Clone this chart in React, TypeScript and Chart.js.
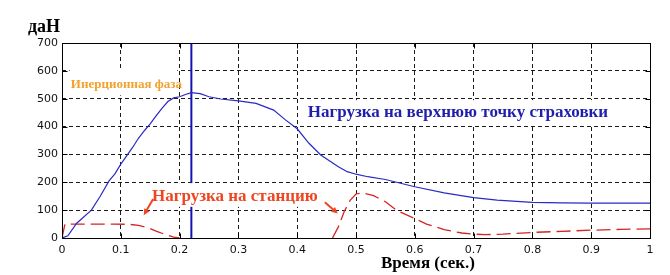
import React, { useEffect, useRef } from "react";
import { Chart, registerables } from "chart.js";

Chart.register(...registerables);

// ---- data ----
const topTime = [0, 0.01, 0.025, 0.05, 0.065, 0.08, 0.09, 0.1, 0.11, 0.12, 0.13, 0.14, 0.15, 0.16, 0.17, 0.18, 0.19, 0.2, 0.21, 0.22, 0.235, 0.25, 0.27, 0.3, 0.33, 0.36, 0.38, 0.4, 0.42, 0.44, 0.47, 0.485, 0.5, 0.52, 0.55, 0.6, 0.65, 0.7, 0.74, 0.8, 0.85, 0.9, 1];
const topLoad = [0, 8, 53, 100, 150, 205, 230, 265, 295, 325, 358, 385, 410, 438, 465, 490, 503, 507, 515, 522, 518, 507, 499, 492, 483, 459, 424, 392, 340, 298, 256, 238, 229, 220, 210, 184, 162, 145, 136, 128, 126, 125, 125];

// null = no visible trace (load at zero, hidden under the axis)
const stationTime = [0, 0.005, 0.03, 0.06, 0.09, 0.115, 0.13, 0.145, 0.16, 0.175, 0.19, 0.2, 0.33, 0.46, 0.47, 0.48, 0.49, 0.5, 0.51, 0.53, 0.55, 0.57, 0.6, 0.62, 0.65, 0.68, 0.7, 0.72, 0.75, 0.8, 0.85, 0.9, 0.95, 1];
const stationLoad = [0, 50, 50, 50, 50, 49, 45, 38, 25, 13, 3, 0, null, 0, 40, 95, 135, 158, 162, 152, 130, 98, 70, 50, 30, 18, 14, 12, 14, 20, 24, 28, 31, 33];

const markerTime = [0.22, 0.22];
const markerLoad = [0, 700];

const xTickValues = [0, 0.1, 0.2, 0.3, 0.4, 0.5, 0.6, 0.7, 0.8, 0.9, 1];
const xTickLabels = ["0", "0.1", "0.2", "0.3", "0.4", "0.5", "0.6", "0.7", "0.8", "0.9", "1"];
const yTickValues = [0, 100, 200, 300, 400, 500, 600, 700];
const yTickLabels = ["0", "100", "200", "300", "400", "500", "600", "700"];

const yUnit = "даН";
const xTitle = "Время (сек.)";
const labelInertia = "Инерционная фаза";
const labelTop = "Нагрузка на верхнюю точку страховки";
const labelStation = "Нагрузка на станцию";

const SERIF = "\"Liberation Serif\", \"Times New Roman\", serif";
const SANS = "\"DejaVu Sans\", sans-serif";

function setSerif(ctx: CanvasRenderingContext2D, text: string, width: number, base: number) {
  ctx.font = `bold ${base}px ${SERIF}`;
  const w = ctx.measureText(text).width;
  const size = Math.round((base * width) / w);
  ctx.font = `bold ${size}px ${SERIF}`;
}

function arrow(ctx: CanvasRenderingContext2D, x1: number, y1: number, x2: number, y2: number, color: string) {
  const ang = Math.atan2(y2 - y1, x2 - x1);
  const head = 7;
  ctx.save();
  ctx.strokeStyle = color;
  ctx.fillStyle = color;
  ctx.lineWidth = 2;
  ctx.beginPath();
  ctx.moveTo(x1, y1);
  ctx.lineTo(x2 - Math.cos(ang) * head * 0.6, y2 - Math.sin(ang) * head * 0.6);
  ctx.stroke();
  ctx.beginPath();
  ctx.moveTo(x2, y2);
  ctx.lineTo(x2 - head * Math.cos(ang - 0.45), y2 - head * Math.sin(ang - 0.45));
  ctx.lineTo(x2 - head * Math.cos(ang + 0.45), y2 - head * Math.sin(ang + 0.45));
  ctx.closePath();
  ctx.fill();
  ctx.restore();
}

const decorPlugin = {
  id: "decor",
  beforeDatasetsDraw(chart: any) {
    const { ctx, scales } = chart;
    const x = scales.x, y = scales.y;
    // white patch behind "Инерционная фаза"
    ctx.save();
    ctx.fillStyle = "#ffffff";
    const l = x.getPixelForValue(0.013), r = x.getPixelForValue(0.196);
    const t = y.getPixelForValue(608), b = y.getPixelForValue(512);
    ctx.fillRect(l, t, r - l, b - t);
    ctx.restore();
  },
  afterDatasetsDraw(chart: any) {
    const { ctx, scales, chartArea: a } = chart;
    const x = scales.x, y = scales.y;
    ctx.save();
    // white patches behind the other two labels
    ctx.fillStyle = "#ffffff";
    {
      const l = x.getPixelForValue(0.412), r = x.getPixelForValue(0.935);
      const t = y.getPixelForValue(495), b = y.getPixelForValue(405);
      ctx.fillRect(l, t, r - l, b - t);
    }
    {
      const l = x.getPixelForValue(0.147), r = x.getPixelForValue(0.436);
      const t = y.getPixelForValue(197), b = y.getPixelForValue(112);
      ctx.fillRect(l, t, r - l, b - t);
    }

    // frame
    const L = Math.round(a.left) + 0.5, R = Math.round(a.right) + 0.5;
    const T = Math.round(a.top) + 0.5, B = Math.round(a.bottom) + 0.5;
    ctx.strokeStyle = "#000";
    ctx.lineWidth = 1;
    ctx.setLineDash([]);
    ctx.strokeRect(L, T, R - L, B - T);
    // inward tick marks
    ctx.beginPath();
    for (const v of xTickValues) {
      const px = Math.round(x.getPixelForValue(v)) + 0.5;
      ctx.moveTo(px, B); ctx.lineTo(px, B - 5);
      ctx.moveTo(px, T); ctx.lineTo(px, T + 5);
    }
    for (const v of yTickValues) {
      const py = Math.round(y.getPixelForValue(v)) + 0.5;
      ctx.moveTo(L, py); ctx.lineTo(L + 5, py);
      ctx.moveTo(R, py); ctx.lineTo(R - 5, py);
    }
    ctx.stroke();

    ctx.textBaseline = "middle";
    ctx.textAlign = "left";
    // axis titles
    ctx.fillStyle = "#000";
    setSerif(ctx, yUnit, 32, 15);
    ctx.fillText(yUnit, 28, 27);
    setSerif(ctx, xTitle, 93, 15);
    ctx.textAlign = "center";
    ctx.fillText(xTitle, 428, 264);
    ctx.textAlign = "left";

    // labels
    ctx.fillStyle = "#f2a22e";
    setSerif(ctx, labelInertia, 110, 11);
    ctx.fillText(labelInertia, x.getPixelForValue(0.015), y.getPixelForValue(550));

    ctx.fillStyle = "#1f1fae";
    setSerif(ctx, labelTop, 304, 16);
    ctx.fillText(labelTop, x.getPixelForValue(0.418), y.getPixelForValue(450));

    ctx.fillStyle = "#ee4622";
    setSerif(ctx, labelStation, 165, 16);
    ctx.fillText(labelStation, x.getPixelForValue(0.153), y.getPixelForValue(148));

    arrow(ctx, x.getPixelForValue(0.155), y.getPixelForValue(140), x.getPixelForValue(0.139), y.getPixelForValue(82), "#ee4622");
    arrow(ctx, x.getPixelForValue(0.447), y.getPixelForValue(128), x.getPixelForValue(0.469), y.getPixelForValue(88), "#ee4622");
    ctx.restore();
  },
};

export default function App() {
  const ref = useRef<HTMLCanvasElement>(null);
  useEffect(() => {
    const prev = document.body.style.margin;
    document.body.style.margin = "0";
    const gridCommon = { color: "#1a1a1a", lineWidth: 1, drawTicks: false };
    const chart = new Chart(ref.current as HTMLCanvasElement, {
      type: "line",
      data: {
        datasets: [
          {
            data: topTime.map((t, i) => ({ x: t, y: topLoad[i] })),
            borderColor: "#2a2ac4",
            borderWidth: 1.2,
            pointRadius: 0,
            tension: 0,
          },
          {
            data: stationTime.map((t, i) => ({ x: t, y: stationLoad[i] })),
            borderColor: "#d42424",
            borderWidth: 1.3,
            borderDash: [14, 6],
            pointRadius: 0,
            tension: 0,
            spanGaps: false,
          },
          {
            data: markerTime.map((t, i) => ({ x: t, y: markerLoad[i] })),
            borderColor: "#1414b4",
            borderWidth: 2,
            pointRadius: 0,
          },
        ],
      },
      options: {
        animation: false,
        responsive: false,
        devicePixelRatio: 1,
        layout: { padding: { top: 43, right: 20, left: 0, bottom: 0 } },
        plugins: { legend: { display: false }, tooltip: { enabled: false } },
        scales: {
          x: {
            type: "linear",
            min: 0,
            max: 1,
            afterFit: (s: any) => { s.height = 37; },
            afterBuildTicks: (s: any) => { s.ticks = xTickValues.map((v) => ({ value: v })); },
            ticks: {
              autoSkip: false,
              maxRotation: 0,
              padding: 6,
              color: "#111",
              font: { family: SANS, size: 11 },
              callback: (_v: any, i: number) => xTickLabels[i],
            },
            grid: gridCommon,
            border: { display: false, dash: [4, 3] },
          },
          y: {
            min: 0,
            max: 700,
            afterFit: (s: any) => { s.width = 62; },
            afterBuildTicks: (s: any) => { s.ticks = yTickValues.map((v) => ({ value: v })); },
            ticks: {
              padding: 4,
              color: "#111",
              font: { family: SANS, size: 11 },
              callback: (_v: any, i: number) => yTickLabels[i],
            },
            grid: gridCommon,
            border: { display: false, dash: [4, 3] },
          },
        },
      },
      plugins: [decorPlugin],
    } as any);
    let alive = true;
    const redraw = () => { if (alive) chart.draw(); };
    requestAnimationFrame(redraw);
    if ((document as any).fonts && (document as any).fonts.ready) {
      (document as any).fonts.ready.then(redraw);
    }
    return () => {
      alive = false;
      chart.destroy();
      document.body.style.margin = prev;
    };
  }, []);
  return (
    <div style={{ position: "relative", width: 670, height: 275 }}>
      <canvas ref={ref} width={670} height={275} style={{ display: "block" }} />
    </div>
  );
}
